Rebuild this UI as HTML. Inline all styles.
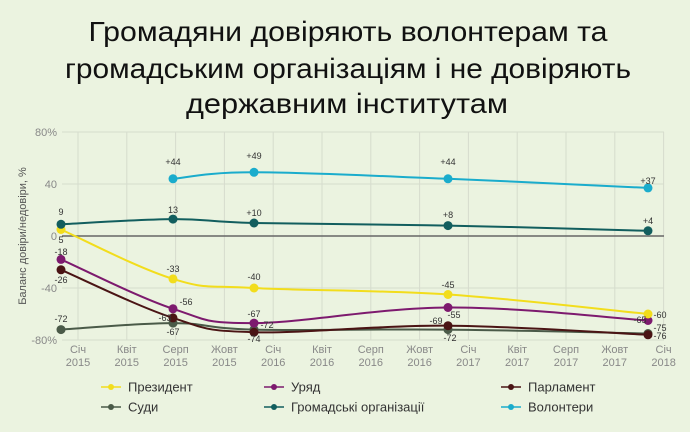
<!DOCTYPE html>
<html><head><meta charset="utf-8"><style>
html,body{margin:0;padding:0;background:#ebf3e0;}
svg{display:block;font-family:"Liberation Sans",sans-serif;}
</style></head><body>
<svg id="s" width="690" height="432" viewBox="0 0 690 432" xmlns="http://www.w3.org/2000/svg">
<rect width="690" height="432" fill="#ebf3e0"/>
<g font-size="28" fill="#111" text-anchor="middle">
<text x="348" y="41" textLength="519" lengthAdjust="spacingAndGlyphs">Громадяни  довіряють волонтерам та</text>
<text x="348" y="78" textLength="566" lengthAdjust="spacingAndGlyphs">громадським організаціям і не довіряють</text>
<text x="347" y="113" textLength="322" lengthAdjust="spacingAndGlyphs">державним  інститутам</text>
</g>
<g id="grid" stroke="#d6dccd" stroke-width="1"></g>
<g id="lab" font-size="11" fill="#888" text-anchor="middle"></g>
<line x1="62" y1="236" x2="664" y2="236" stroke="#666" stroke-width="1.5"/>
<g font-size="11" fill="#888" text-anchor="end">
<text x="57" y="136">80%</text><text x="57" y="188">40</text><text x="57" y="240">0</text><text x="57" y="292">-40</text><text x="57" y="344">-80%</text>
</g>
<text transform="translate(26,236) rotate(-90)" font-size="11" fill="#555" text-anchor="middle">Баланс довіри/недовіри, %</text>
<g id="series"></g>
<g id="vals" font-size="9" fill="#333" text-anchor="middle"></g>
<g font-size="13" fill="#333" id="leg"></g>
</svg>
<script>
const NS="http://www.w3.org/2000/svg";
function el(p,t,a,txt){const e=document.createElementNS(NS,t);for(const k in a)e.setAttribute(k,a[k]);if(txt!=null)e.textContent=txt;document.getElementById(p).appendChild(e);return e;}
const mons=["Січ","Квіт","Серп","Жовт"];
for(let k=0;k<=12;k++){const x=78+48.8*k;el("grid","line",{x1:x,y1:132,x2:x,y2:340});
 const m=mons[k%4];const yr=2015+Math.floor(k/4);el("lab","text",{x:x,y:353},m);el("lab","text",{x:x,y:366},yr);}
for(const v of [80,40,-40,-80]){const y=236-v*1.3;el("grid","line",{x1:62,y1:y,x2:664,y2:y});}
const X=[61,173,254,448,648];const Y=v=>236-v*1.3;
const S=[
 ["#4a5a48",[-72,-67,-72,-72,-75],0],
 ["#4a1414",[-26,-63,-74,-69,-76],0],
 ["#7d1a6e",[-18,-56,-67,-55,-65],0],
 ["#f2dd1c",[5,-33,-40,-45,-60],0],
 ["#125e5e",[9,13,10,8,4],0],
 ["#1aaccc",[null,44,49,44,37],1],
];
function path(pts){let d="M"+pts[0][0]+","+pts[0][1];for(let i=0;i<pts.length-1;i++){const p0=pts[i-1]||pts[i],p1=pts[i],p2=pts[i+1],p3=pts[i+2]||p2;const t=0.18;
 const c1=[p1[0]+(p2[0]-p0[0])*t,p1[1]+(p2[1]-p0[1])*t],c2=[p2[0]-(p3[0]-p1[0])*t,p2[1]-(p3[1]-p1[1])*t];d+=" C"+c1+" "+c2+" "+p2;}return d;}
for(const [c,v] of S){const pts=[];v.forEach((a,i)=>{if(a!=null)pts.push([X[i],Y(a)]);});
 el("series","path",{d:path(pts),fill:"none",stroke:c,"stroke-width":2});
 pts.forEach(p=>el("series","circle",{cx:p[0],cy:p[1],r:4.5,fill:c}));}
const L=[[61,215,"9"],[61,243,"5"],[61,255,"-18"],[61,283,"-26"],[61,322,"-72"],
[173,165,"+44"],[173,213,"13"],[173,272,"-33"],[186,305,"-56"],[165,321,"-63"],[173,335,"-67"],
[254,159,"+49"],[254,216,"+10"],[254,280,"-40"],[254,317,"-67"],[267,328,"-72"],[254,342,"-74"],
[448,165,"+44"],[448,218,"+8"],[448,288,"-45"],[454,318,"-55"],[436,324,"-69"],[450,341,"-72"],
[648,184,"+37"],[648,224,"+4"],[660,318,"-60"],[640,323,"-65"],[660,331,"-75"],[660,339,"-76"]];
L.forEach(l=>el("vals","text",{x:l[0],y:l[1]},l[2]));
const G=[[101,387,"#f2dd1c","Президент"],[264,387,"#7d1a6e","Уряд"],[501,387,"#4a1414","Парламент"],
[101,407,"#4a5a48","Суди"],[264,407,"#125e5e","Громадські організації"],[501,407,"#1aaccc","Волонтери"]];
G.forEach(g=>{el("leg","line",{x1:g[0],y1:g[1],x2:g[0]+20,y2:g[1],stroke:g[2],"stroke-width":1.5});
 el("leg","circle",{cx:g[0]+10,cy:g[1],r:3,fill:g[2]});el("leg","text",{x:g[0]+27,y:g[1]+4.5},g[3]);});
</script>
</body></html>
